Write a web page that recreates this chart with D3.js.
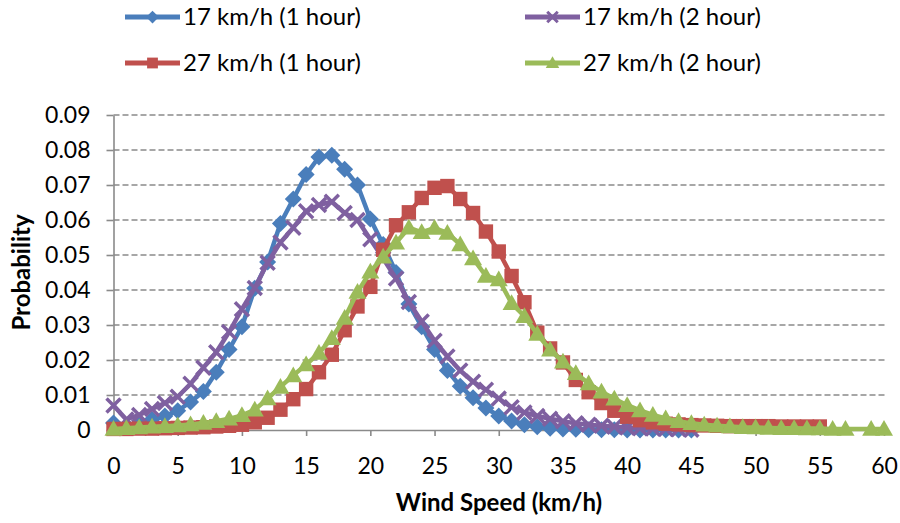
<!DOCTYPE html>
<meta charset="utf-8">
<style>
body { margin: 0; background: #fff; }
text { font-family: Lato, "Open Sans", sans-serif; fill: #000; }
.grid line { stroke: #8a8a8a; stroke-width: 1.6px; stroke-dasharray: 6,3; }
.axis path, .axis line { stroke: #8a8a8a; stroke-width: 1.6px; }
.axis text { font-size: 23px; fill: #000; }
.title { font-size: 24px; font-weight: bold; }
.legend text { font-size: 24px; }
</style>
<svg width="900" height="523"></svg>
<script src="https://d3js.org/d3.v7.min.js"></script>
<script>

// wind speed (km/h) of each point
var speeds17 = d3.range(0, 46);
var speeds27a = d3.range(0, 56);
var speeds27b = d3.range(0, 58).concat([59, 60]);

var prob17h1 = [0.0020, 0.0012, 0.0020, 0.0030, 0.0040, 0.0055, 0.0080, 0.0110, 0.0165, 0.0230,
                0.0295, 0.0405, 0.0480, 0.0590, 0.0660, 0.0730, 0.0780, 0.0785, 0.0745, 0.0700,
                0.0603, 0.0530, 0.0450, 0.0360, 0.0295, 0.0230, 0.0170, 0.0125, 0.0092, 0.0063,
                0.0040, 0.0026, 0.0015, 0.0009, 0.0005, 0.0003, 0.0002, 0.0001, 0.0001, 0.0001,
                0.0000, 0.0000, 0.0000, 0.0000, 0.0000, 0.0000];

var prob17h2 = [0.0070, 0.0030, 0.0043, 0.0060, 0.0077, 0.0095, 0.0132, 0.0178, 0.0222, 0.0280,
                0.0345, 0.0406, 0.0478, 0.0536, 0.0578, 0.0625, 0.0643, 0.0652, 0.0620, 0.0600,
                0.0545, 0.0490, 0.0433, 0.0366, 0.0310, 0.0255, 0.0210, 0.0170, 0.0138, 0.0115,
                0.0090, 0.0065, 0.0050, 0.0040, 0.0032, 0.0025, 0.0019, 0.0015, 0.0012, 0.0009,
                0.0007, 0.0005, 0.0004, 0.0003, 0.0002, 0.0001];

var prob27h1 = [0.0003, 0.0003, 0.0004, 0.0004, 0.0005, 0.0006, 0.0007, 0.0008, 0.0010, 0.0012,
                0.0015, 0.0022, 0.0035, 0.0058, 0.0088, 0.0117, 0.0165, 0.0215, 0.0285, 0.0353,
                0.0409, 0.0515, 0.0585, 0.0622, 0.0663, 0.0692, 0.0697, 0.0660, 0.0620, 0.0567,
                0.0510, 0.0440, 0.0365, 0.0278, 0.0233, 0.0193, 0.0143, 0.0108, 0.0077, 0.0055,
                0.0038, 0.0028, 0.0022, 0.0018, 0.0016, 0.0014, 0.0013, 0.0012, 0.0011, 0.0011,
                0.0011, 0.0011, 0.0010, 0.0010, 0.0010, 0.0010];

var prob27h2 = [0.0003, 0.0005, 0.0007, 0.0009, 0.0011, 0.0013, 0.0016, 0.0020, 0.0025, 0.0032,
                0.0042, 0.0058, 0.0090, 0.0123, 0.0156, 0.0187, 0.0220, 0.0262, 0.0320, 0.0394,
                0.0452, 0.0495, 0.0535, 0.0578, 0.0565, 0.0577, 0.0563, 0.0530, 0.0490, 0.0440,
                0.0430, 0.0362, 0.0325, 0.0274, 0.0229, 0.0195, 0.0162, 0.0133, 0.0109, 0.0089,
                0.0071, 0.0056, 0.0043, 0.0033, 0.0025, 0.0019, 0.0015, 0.0012, 0.0010, 0.0008,
                0.0007, 0.0006, 0.0005, 0.0005, 0.0004, 0.0004, 0.0003, 0.0003, 0.0003, 0.0003];

var seriesNames = ["17 km/h (1 hour)", "17 km/h (2 hour)", "27 km/h (1 hour)", "27 km/h (2 hour)"];
var xTicks = [0, 5, 10, 15, 20, 25, 30, 35, 40, 45, 50, 55, 60];
var yTicks = [0, 0.01, 0.02, 0.03, 0.04, 0.05, 0.06, 0.07, 0.08, 0.09];

var svg = d3.select("svg");

var x = d3.scaleLinear().domain([0, 60]).range([113.5, 884]);
var y = d3.scaleLinear().domain([0, 0.09]).range([430, 115]);

// marker shapes
function diamond(r) { return "M0," + (-r) + "L" + r + ",0L0," + r + "L" + (-r) + ",0Z"; }
function square(r) { return "M" + (-r) + "," + (-r) + "h" + 2*r + "v" + 2*r + "h" + (-2*r) + "Z"; }
function triangle(r) { return "M0," + (-r) + "L" + r + "," + (r*0.75) + "L" + (-r) + "," + (r*0.75) + "Z"; }
function cross(r) { return "M" + (-r) + "," + (-r) + "L" + r + "," + r + "M" + (-r) + "," + r + "L" + r + "," + (-r); }

var series = [
  {name: seriesNames[0], xs: speeds17, ys: prob17h1, color: "#4a7ebb", shape: diamond, size: 8.5, stroke: false},
  {name: seriesNames[1], xs: speeds17, ys: prob17h2, color: "#7f60a0", shape: cross, size: 7, stroke: true},
  {name: seriesNames[2], xs: speeds27a, ys: prob27h1, color: "#c0504d", shape: square, size: 7.2, stroke: false},
  {name: seriesNames[3], xs: speeds27b, ys: prob27h2, color: "#9bbb59", shape: triangle, size: 9, stroke: false}
];

// gridlines
svg.append("g").attr("class", "grid")
  .selectAll("line")
  .data(yTicks.slice(1))
  .enter().append("line")
    .attr("x1", x(0)).attr("x2", x(60) + 3)
    .attr("y1", function(d) { return y(d); })
    .attr("y2", function(d) { return y(d); });

svg.append("g").attr("class", "axis")
    .attr("transform", "translate(" + x(0) + ",0)")
    .call(d3.axisLeft(y).tickValues(yTicks).tickSize(7).tickSizeOuter(0).tickPadding(16)
      .tickFormat(function(d) { return d === 0 ? "0" : d.toFixed(2); }));

svg.append("g").attr("class", "axis")
    .attr("transform", "translate(0," + y(0) + ")")
    .call(d3.axisBottom(x).tickValues(xTicks).tickSize(6).tickSizeOuter(0).tickPadding(22));

svg.selectAll(".axis .domain").attr("stroke", "#8a8a8a");

var line = d3.line()
    .x(function(d) { return x(d[0]); })
    .y(function(d) { return y(d[1]); });

series.forEach(function(s) {
  var pts = s.xs.map(function(v, i) { return [v, s.ys[i]]; });
  var g = svg.append("g");
  g.append("path")
      .attr("d", line(pts))
      .attr("fill", "none")
      .attr("stroke", s.color)
      .attr("stroke-width", 4.5)
      .attr("stroke-linejoin", "round");
  g.selectAll("path.m")
    .data(pts)
    .enter().append("path")
      .attr("class", "m")
      .attr("transform", function(d) { return "translate(" + x(d[0]) + "," + y(d[1]) + ")"; })
      .attr("d", s.shape(s.size))
      .attr("fill", s.stroke ? "none" : s.color)
      .attr("stroke", s.color)
      .attr("stroke-width", s.stroke ? 3.5 : 0);
});

// legend
var legendPos = [[125, 17], [525, 17], [125, 63], [525, 63]];
var legend = svg.append("g").attr("class", "legend")
  .selectAll("g")
  .data(series)
  .enter().append("g")
    .attr("transform", function(d, i) { return "translate(" + legendPos[i][0] + "," + legendPos[i][1] + ")"; });

legend.append("line")
    .attr("x1", 0).attr("x2", 55)
    .attr("stroke", function(d) { return d.color; })
    .attr("stroke-width", 5);
legend.append("path")
    .attr("transform", "translate(27.5,0)")
    .attr("d", function(d) { return d.shape(d.size * 0.75); })
    .attr("fill", function(d) { return d.stroke ? "none" : d.color; })
    .attr("stroke", function(d) { return d.color; })
    .attr("stroke-width", function(d) { return d.stroke ? 3 : 0; });
legend.append("text")
    .attr("x", 58)
    .attr("dy", "0.35em")
    .text(function(d) { return d.name; });

// axis titles
svg.append("text").attr("class", "title")
    .attr("transform", "translate(22," + y(0.045) + ") rotate(-90)")
    .attr("text-anchor", "middle")
    .attr("dy", "0.35em")
    .text("Probability");

svg.append("text").attr("class", "title")
    .attr("x", 499).attr("y", 503)
    .attr("text-anchor", "middle")
    .attr("dy", "0.35em")
    .text("Wind Speed (km/h)");

</script>
